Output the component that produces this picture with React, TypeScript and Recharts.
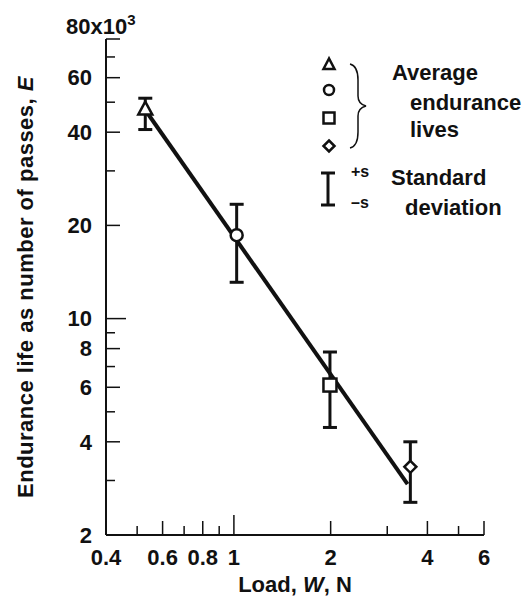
import React from "react";
import { ScatterChart, Scatter, XAxis, YAxis, ErrorBar } from "recharts";

// Average endurance lives (x10^3 passes) vs load (N)
const loads = [0.53, 1.02, 1.99, 3.54];
const lives = [47.5, 18.6, 6.1, 3.32];
const livesLow = [40.8, 13.1, 4.45, 2.55];
const livesHigh = [51.5, 23.4, 7.8, 4.0];
const markers = ["triangle", "circle", "square", "diamond"];

// fitted line end points
const fitLoads = [0.536, 3.47];
const fitLives = [46.4, 2.92];

const xTicks = [0.4, 0.5, 0.6, 0.7, 0.8, 0.9, 1, 2, 3, 4, 5, 6];
const xLabels = [0.4, 0.6, 0.8, 1, 2, 4, 6];
const yTicks = [2, 3, 4, 5, 6, 7, 8, 9, 10, 20, 30, 40, 50, 60, 70, 80];
const yLabels = [2, 4, 6, 8, 10, 20, 40, 60, 80];

const font = "'Liberation Sans', Arial, sans-serif";
const ink = "#111";

const points = loads.map((x, i) => ({
  x,
  y: lives[i],
  err: [lives[i] - livesLow[i], livesHigh[i] - lives[i]],
  marker: markers[i]
}));
const fit = fitLoads.map((x, i) => ({ x, y: fitLives[i] }));

const XTick = (props: any) => {
  const { x, y, payload } = props;
  const v = payload.value;
  const labelled = xLabels.includes(v);
  const len = v === 1 ? 20 : labelled ? 14 : 9;
  return (
    <g>
      <line x1={x} y1={y} x2={x} y2={y - len} stroke={ink} strokeWidth={1.5} />
      {labelled && (
        <text x={x} y={y + 22} dy="0.35em" textAnchor="middle" fontSize={22} fontWeight="bold" fontFamily={font} fill={ink}>
          {v}
        </text>
      )}
    </g>
  );
};

const YTick = (props: any) => {
  const { x, y, payload } = props;
  const v = payload.value;
  const labelled = yLabels.includes(v);
  const len = v === 10 ? 20 : labelled ? 14 : 9;
  return (
    <g>
      <line x1={x} y1={y} x2={x + len} y2={y} stroke={ink} strokeWidth={1.5} />
      {labelled && v === 80 && (
        <text x={x - 40} y={y - 13} dy="0.35em" textAnchor="start" fontSize={22} fontWeight="bold" fontFamily={font} fill={ink}>
          80x10
          <tspan fontSize={15} dy="-0.6em">3</tspan>
        </text>
      )}
      {labelled && v !== 80 && (
        <text x={x - 14} y={y} dy="0.35em" textAnchor="end" fontSize={22} fontWeight="bold" fontFamily={font} fill={ink}>
          {v}
        </text>
      )}
    </g>
  );
};

const Marker = (props: any) => {
  const { cx, cy, payload } = props;
  const common = { fill: "#fff", stroke: ink, strokeWidth: 2.5 };
  switch (payload.marker) {
    case "triangle":
      return <polygon points={`${cx},${cy - 7.5} ${cx - 7},${cy + 5.5} ${cx + 7},${cy + 5.5}`} {...common} />;
    case "circle":
      return <circle cx={cx} cy={cy} r={6} {...common} />;
    case "square":
      return <rect x={cx - 6.5} y={cy - 6.5} width={13} height={13} {...common} />;
    default:
      return <polygon points={`${cx},${cy - 6} ${cx + 6},${cy} ${cx},${cy + 6} ${cx - 6},${cy}`} {...common} />;
  }
};

const Legend = () => (
  <svg width={531} height={603} style={{ position: "absolute", left: 0, top: 0, pointerEvents: "none" }}>
    <g fontFamily={font} fill={ink} fontSize={22} fontWeight="bold">
      <polygon points="329,58.5 323.5,69 334.5,69" fill="#fff" stroke={ink} strokeWidth={2.5} />
      <circle cx={329} cy={90} r={5} fill="#fff" stroke={ink} strokeWidth={2.5} />
      <rect x={323.5} y={112.5} width={11} height={11} fill="#fff" stroke={ink} strokeWidth={2.5} />
      <polygon points="329,140.5 334.5,146 329,151.5 323.5,146" fill="#fff" stroke={ink} strokeWidth={2.5} />
      <path
        d="M350,64 Q358,66 358,80 L358,96 Q358,104 366,106 Q358,108 358,116 L358,132 Q358,146 350,148"
        fill="none"
        stroke={ink}
        strokeWidth={1.5}
      />
      <text x={392} y={72} dy="0.35em">Average</text>
      <text x={410} y={102} dy="0.35em">endurance</text>
      <text x={410} y={129} dy="0.35em">lives</text>

      <line x1={328} y1={173} x2={328} y2={205} stroke={ink} strokeWidth={3} />
      <line x1={321} y1={173} x2={335} y2={173} stroke={ink} strokeWidth={3} />
      <line x1={321} y1={205} x2={335} y2={205} stroke={ink} strokeWidth={3} />
      <text x={351} y={171} dy="0.35em" fontSize={16}>+s</text>
      <text x={351} y={202} dy="0.35em" fontSize={16}>–s</text>
      <text x={391} y={177} dy="0.35em">Standard</text>
      <text x={405} y={207} dy="0.35em">deviation</text>

      <text x={295} y={584} dy="0.35em" textAnchor="middle">
        Load, <tspan fontStyle="italic">W</tspan>, N
      </text>
      <text x={25} y={287} dy="0.35em" textAnchor="middle" letterSpacing={0.5} transform="rotate(-90 25 287)">
        Endurance life as number of passes, <tspan fontStyle="italic">E</tspan>
      </text>
    </g>
  </svg>
);

export default function App() {
  return (
    <div style={{ position: "absolute", left: 0, top: 0, width: 531, height: 603, background: "#fff" }}>
      <ScatterChart width={531} height={603} margin={{ top: 39, right: 47, bottom: 38, left: 46 }}>
        <XAxis
          type="number"
          dataKey="x"
          scale="log"
          domain={[0.4, 6]}
          allowDataOverflow
          ticks={xTicks}
          interval={0}
          tick={<XTick />}
          tickLine={false}
          tickSize={0}
          tickMargin={0}
          height={30}
          axisLine={{ stroke: ink, strokeWidth: 2 }}
        />
        <YAxis
          type="number"
          dataKey="y"
          scale="log"
          domain={[2, 80]}
          allowDataOverflow
          ticks={yTicks}
          interval={0}
          tick={<YTick />}
          tickLine={false}
          tickSize={0}
          tickMargin={0}
          width={60}
          axisLine={{ stroke: ink, strokeWidth: 2 }}
        />
        <Scatter data={points} shape={() => <g />} isAnimationActive={false}>
          <ErrorBar dataKey="err" direction="y" width={7} stroke={ink} strokeWidth={3} isAnimationActive={false} />
        </Scatter>
        <Scatter
          data={fit}
          line={{ stroke: ink, strokeWidth: 4 }}
          shape={() => <g />}
          isAnimationActive={false}
        />
        <Scatter data={points} shape={<Marker />} isAnimationActive={false} />
      </ScatterChart>
      <Legend />
    </div>
  );
}
